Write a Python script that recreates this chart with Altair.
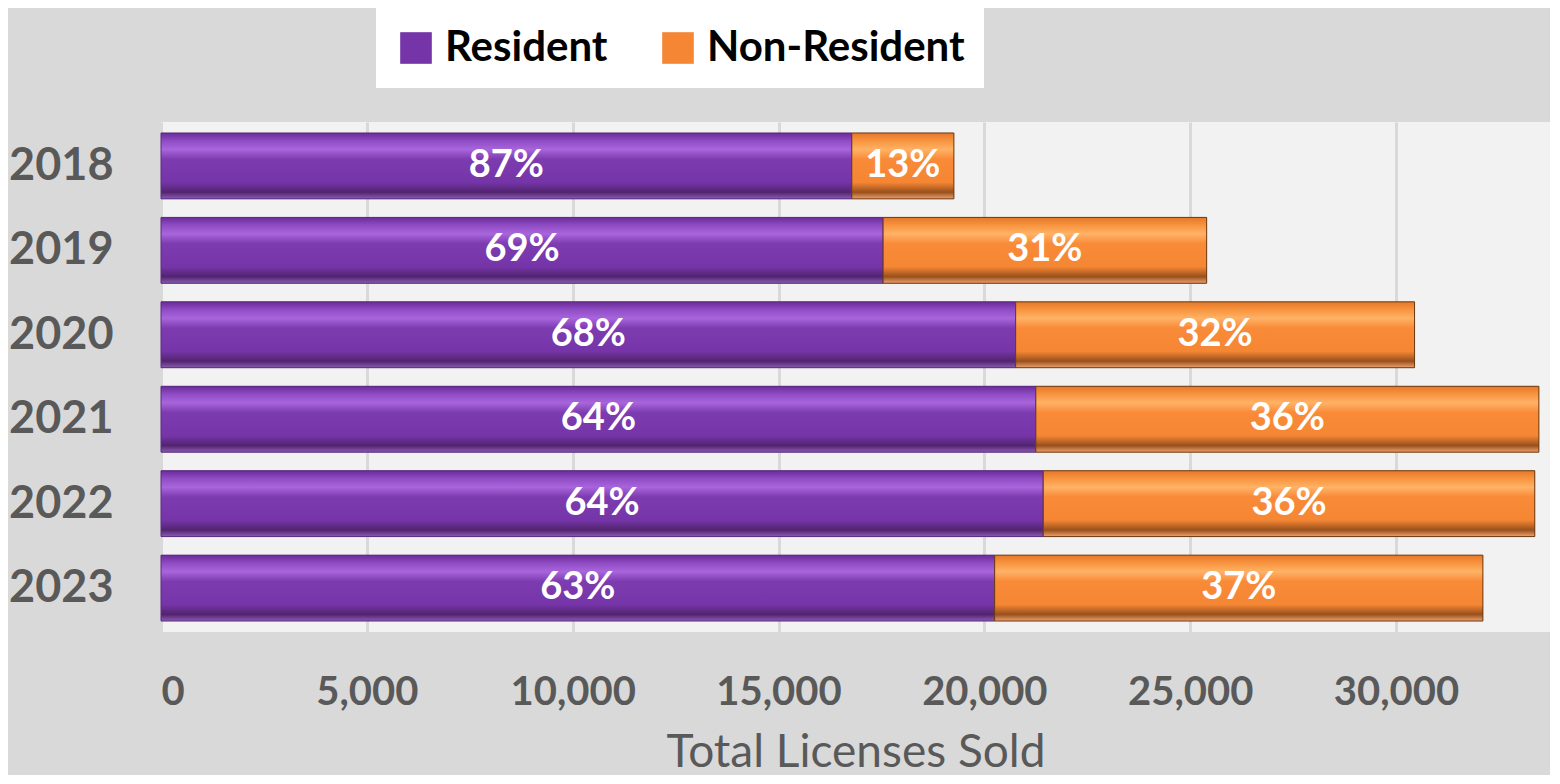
import altair as alt
import pandas as pd

years = ["2018", "2019", "2020", "2021", "2022", "2023"]
resident = [16780, 17540, 20760, 21250, 21430, 20250]
non_resident = [2480, 7860, 9690, 12220, 11940, 11860]
resident_pct = ["87%", "69%", "68%", "64%", "64%", "63%"]
non_resident_pct = ["13%", "31%", "32%", "36%", "36%", "37%"]
series = ["Resident", "Non-Resident"]
x_ticks = [0, 5000, 10000, 15000, 20000, 25000, 30000]

rows = []
for i, y in enumerate(years):
    r, n = resident[i], non_resident[i]
    rows.append({"year": y, "series": "Resident", "start": 0, "end": r, "label": resident_pct[i]})
    rows.append({"year": y, "series": "Non-Resident", "start": r, "end": r + n, "label": non_resident_pct[i]})
df = pd.DataFrame(rows)

FONT = "Lato"

purple_grad = alt.LinearGradient(
    gradient="linear", x1=0, x2=0, y1=0, y2=1,
    stops=[
        alt.GradientStop(offset=0.0, color="#6a2b98"),
        alt.GradientStop(offset=0.12, color="#8f4cc4"),
        alt.GradientStop(offset=0.25, color="#a865dc"),
        alt.GradientStop(offset=0.40, color="#7d3bb0"),
        alt.GradientStop(offset=0.75, color="#7535a8"),
        alt.GradientStop(offset=0.90, color="#52246f"),
        alt.GradientStop(offset=1.0, color="#8a5cb0"),
    ],
)
orange_grad = alt.LinearGradient(
    gradient="linear", x1=0, x2=0, y1=0, y2=1,
    stops=[
        alt.GradientStop(offset=0.0, color="#e6772a"),
        alt.GradientStop(offset=0.12, color="#f8943f"),
        alt.GradientStop(offset=0.25, color="#ffb266"),
        alt.GradientStop(offset=0.40, color="#f98a38"),
        alt.GradientStop(offset=0.75, color="#f58634"),
        alt.GradientStop(offset=0.90, color="#98501c"),
        alt.GradientStop(offset=1.0, color="#f0a070"),
    ],
)

y_enc = alt.Y(
    "year:N",
    sort=years,
    title=None,
    scale=alt.Scale(paddingInner=0.22, paddingOuter=0.13),
    axis=alt.Axis(
        labelFont=FONT, labelFontSize=45, labelFontWeight="bold", labelColor="#595959",
        labelPadding=48, ticks=False, domain=False, grid=False,
    ),
)
x_enc = alt.X(
    "start:Q",
    title="Total Licenses Sold",
    scale=alt.Scale(domain=[0, 33740], nice=False),
    axis=alt.Axis(
        values=x_ticks, format=",d",
        labelFont=FONT, labelFontSize=40, labelFontWeight="bold", labelColor="#595959",
        labelPadding=40, ticks=False, domain=False,
        grid=True, gridColor="#d9d9d9", gridWidth=3,
        titleFont=FONT, titleFontSize=46, titleFontWeight="normal", titleColor="#595959",
        titlePadding=18,
    ),
)

base = alt.Chart(df)

legend_layer = base.mark_bar().encode(
    y=y_enc,
    x=x_enc,
    x2="end:Q",
    color=alt.Color(
        "series:N",
        scale=alt.Scale(domain=series, range=["#7535a8", "#f58634"]),
        legend=alt.Legend(
            title=None, orient="none", direction="horizontal",
            legendX=215, legendY=-114,
            fillColor="white", padding=19,
            labelFont=FONT, labelFontSize=42, labelFontWeight="bold", labelColor="#000000",
            symbolType="square", symbolSize=1000, symbolStrokeWidth=0,
            labelOffset=8, columnPadding=49, labelLimit=400,
        ),
    ),
)

res_layer = base.transform_filter(alt.datum.series == "Resident").mark_bar(
    stroke="#5a2a80", strokeWidth=1
).encode(y=y_enc, x=x_enc, x2="end:Q", fill=alt.value(purple_grad))

non_layer = base.transform_filter(alt.datum.series == "Non-Resident").mark_bar(
    stroke="#6a3a12", strokeWidth=1
).encode(y=y_enc, x=x_enc, x2="end:Q", fill=alt.value(orange_grad))

text_layer = base.transform_calculate(mid="(datum.start + datum.end) / 2").mark_text(
    font=FONT, fontSize=38, fontWeight="bold", color="white", align="center", baseline="middle"
).encode(y=y_enc, x=alt.X("mid:Q"), text="label:N")

chart = alt.layer(legend_layer, res_layer, non_layer, text_layer).properties(
    width=1389, height=510, background="#d9d9d9", padding=0
).configure_view(fill="#f2f2f2", stroke=None)

chart.save("out.html", embed_options={"renderer": "svg", "actions": False})
